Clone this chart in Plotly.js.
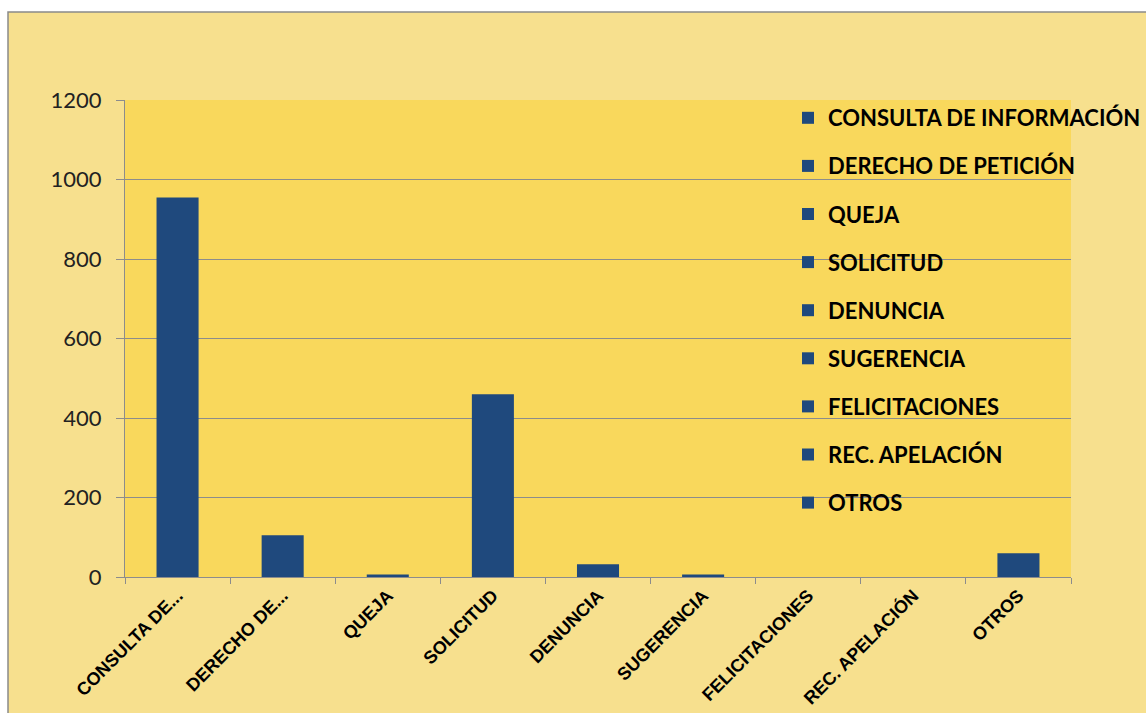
<!DOCTYPE html>
<html>
<head>
<meta charset="utf-8">
<script src="https://cdn.plot.ly/plotly-3.0.1.min.js"></script>
<style>html,body{margin:0;padding:0;background:#fff;}#chart{width:1146px;height:713px;}</style>
</head>
<body>
<div id="chart"></div>
<script>
// Data
const categories = ["CONSULTA DE INFORMACIÓN", "DERECHO DE PETICIÓN", "QUEJA", "SOLICITUD", "DENUNCIA", "SUGERENCIA", "FELICITACIONES", "REC. APELACIÓN", "OTROS"];
const tickLabels = ["CONSULTA DE...", "DERECHO DE...", "QUEJA", "SOLICITUD", "DENUNCIA", "SUGERENCIA", "FELICITACIONES", "REC. APELACIÓN", "OTROS"];
const values = [955, 105, 6, 460, 32, 6, 0, 0, 60];
const yTicks = [0, 200, 400, 600, 800, 1000, 1200];

const barColor = "#1F497D";

const traces = categories.map((c, i) => ({
  type: "bar",
  name: c,
  x: [c],
  y: [values[i]],
  width: 0.4,
  marker: {color: barColor, line: {width: 0}},
  legendgroup: "g" + i,
  hoverinfo: "x+y"
}));

const W = 1146, H = 713;
const L = 125, R = 75, T = 100, B = 136;
const pw = W - L - R, ph = H - T - B;
const px = v => (v - L) / pw;
const py = v => (H - B - v) / ph;

const layout = {
  width: W, height: H,
  margin: {l: L, r: R, t: T, b: B, pad: 0, autoexpand: false},
  paper_bgcolor: "#ffffff",
  plot_bgcolor: "rgba(0,0,0,0)",
  barmode: "overlay",
  showlegend: true,
  legend: {
    x: px(788), xanchor: "left",
    y: py(97), yanchor: "top",
    bgcolor: "rgba(0,0,0,0)",
    font: {family: "Lato, 'Open Sans', sans-serif", size: 22, color: "#000", weight: "bold"},
    traceorder: "grouped",
    tracegroupgap: 16.5,
    itemwidth: 30,
    maxheight: 1
  },
  xaxis: {
    type: "category",
    categoryorder: "array",
    categoryarray: categories,
    tickvals: categories,
    ticktext: tickLabels,
    tickangle: -45,
    tickson: "boundaries",
    ticks: "outside",
    ticklen: 6,
    tickcolor: "#8c8c8c",
    showline: true,
    linecolor: "#8c8c8c",
    linewidth: 1,
    showgrid: false,
    tickfont: {family: "'Liberation Sans', Arial, sans-serif", size: 18, color: "#000", weight: "bold"},
    fixedrange: true
  },
  yaxis: {
    range: [0, 1200],
    tickvals: yTicks,
    ticktext: yTicks.map(String),
    ticks: "outside",
    ticklen: 8,
    tickcolor: "#8c8c8c",
    ticklabelstandoff: 10,
    showline: true,
    linecolor: "#8c8c8c",
    showgrid: true,
    gridcolor: "#8c8c8c",
    gridwidth: 1,
    zeroline: false,
    tickfont: {family: "Lato, 'Open Sans', sans-serif", size: 22, color: "#222"},
    fixedrange: true
  },
  shapes: [
    {type: "rect", layer: "below", xref: "paper", yref: "paper",
     x0: px(8), x1: px(1160), y0: py(730), y1: py(12),
     fillcolor: "#F7E08E", line: {color: "#8a8a8a", width: 1.5}},
    {type: "rect", layer: "below", xref: "paper", yref: "paper",
     x0: 0, x1: 1, y0: 0, y1: 1,
     fillcolor: "#F9D85C", line: {width: 0}}
  ]
};

Plotly.newPlot("chart", traces, layout, {displayModeBar: false, staticPlot: true});
</script>
</body>
</html>
